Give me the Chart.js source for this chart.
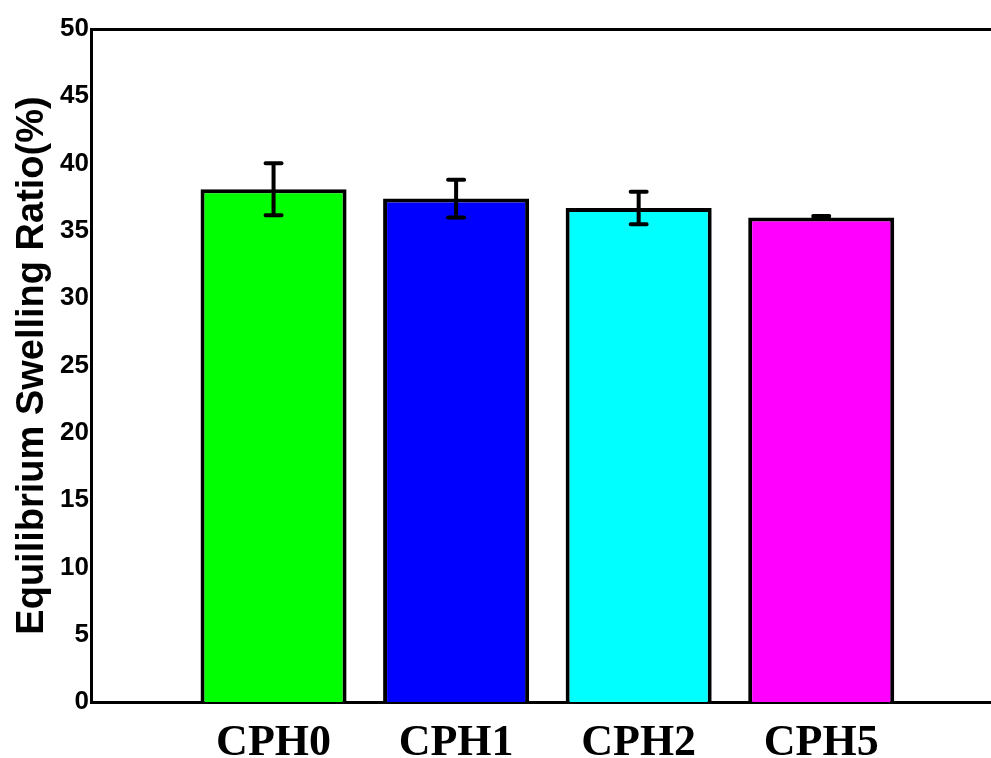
<!DOCTYPE html>
<html>
<head>
<meta charset="utf-8">
<script src="https://cdn.jsdelivr.net/npm/chart.js@4.4.1/dist/chart.umd.min.js"></script>
<style>
  html, body { margin: 0; padding: 0; background: #fff; }
  #wrap { width: 991px; height: 758px; }
</style>
</head>
<body>
<div id="wrap"><canvas id="swellChart"></canvas></div>
<script>
const categories = ['CPH0', 'CPH1', 'CPH2', 'CPH5'];
const swellRatio = [38.1, 37.4, 36.7, 36.0];
const swellErr = [1.93, 1.4, 1.2, 0.1];
const barColors = ['#00ff00', '#0000ff', '#00ffff', '#ff00ff'];
const yTicks = [0, 5, 10, 15, 20, 25, 30, 35, 40, 45, 50];

// barras nas posicoes 1..4 de um eixo linear
const points = categories.map((c, i) => ({ x: i + 1, y: swellRatio[i] }));

const errorBars = {
    id: 'errorBars',
    afterDatasetsDraw(chart) {
        const ctx = chart.ctx;
        const xs = chart.scales.x, ys = chart.scales.y;
        ctx.save();
        ctx.strokeStyle = '#000';
        ctx.lineWidth = 4;
        ctx.lineCap = 'round';
        points.forEach((p, i) => {
            const px = xs.getPixelForValue(p.x);
            const hi = ys.getPixelForValue(p.y + swellErr[i]);
            const lo = ys.getPixelForValue(p.y - swellErr[i]);
            ctx.beginPath();
            ctx.moveTo(px, hi); ctx.lineTo(px, lo);
            ctx.moveTo(px - 8, hi); ctx.lineTo(px + 8, hi);
            ctx.moveTo(px - 8, lo); ctx.lineTo(px + 8, lo);
            ctx.stroke();
        });
        ctx.restore();
    }
};

new Chart(document.getElementById('swellChart').getContext('2d'), {
    type: 'bar',
    data: {
        datasets: [{
            data: points,
            backgroundColor: barColors,
            borderColor: '#000',
            borderWidth: 4,
            categoryPercentage: 0.8,
            barPercentage: 1.0
        }]
    },
    options: {
        responsive: true,
        maintainAspectRatio: false,
        animation: false,
        layout: { padding: { top: 29, right: 0, left: 0, bottom: 0 } },
        plugins: { legend: { display: false }, tooltip: { enabled: false } },
        scales: {
            x: {
                type: 'linear',
                offset: false,
                min: 0,
                max: 4.93,
                afterBuildTicks: (s) => { s.ticks = categories.map((c, i) => ({ value: i + 1 })); },
                afterFit: (s) => { s.height = 56; },
                ticks: {
                    autoSkip: false,
                    maxRotation: 0,
                    padding: 15,
                    color: '#000',
                    font: { family: '"Liberation Serif", "Times New Roman", serif', size: 44, weight: 'bold' },
                    callback: (v) => categories[v - 1]
                },
                grid: { display: false, drawTicks: false, offset: false },
                border: { display: true, color: '#000', width: 3 }
            },
            xTop: {
                type: 'linear',
                position: 'top',
                offset: false,
                min: 0,
                max: 4.93,
                afterFit: (s) => { s.height = 0; },
                ticks: { display: false },
                grid: { display: false, drawTicks: false },
                border: { display: true, color: '#000', width: 3 }
            },
            y: {
                min: 0,
                max: 50,
                afterBuildTicks: (s) => { s.ticks = yTicks.map(v => ({ value: v })); },
                afterFit: (s) => { s.width = 91; },
                ticks: {
                    padding: 2,
                    color: '#000',
                    font: { family: '"Liberation Sans", Arial, sans-serif', size: 26, weight: 'bold' }
                },
                title: {
                    display: true,
                    text: 'Equilibrium Swelling Ratio(%)',
                    color: '#000',
                    padding: { top: 10, bottom: 0 },
                    font: { family: '"Liberation Sans", Arial, sans-serif', size: 38, weight: 'bold' }
                },
                grid: { display: false, drawTicks: false },
                border: { display: true, color: '#000', width: 3 }
            }
        }
    },
    plugins: [errorBars]
});
</script>
</body>
</html>
